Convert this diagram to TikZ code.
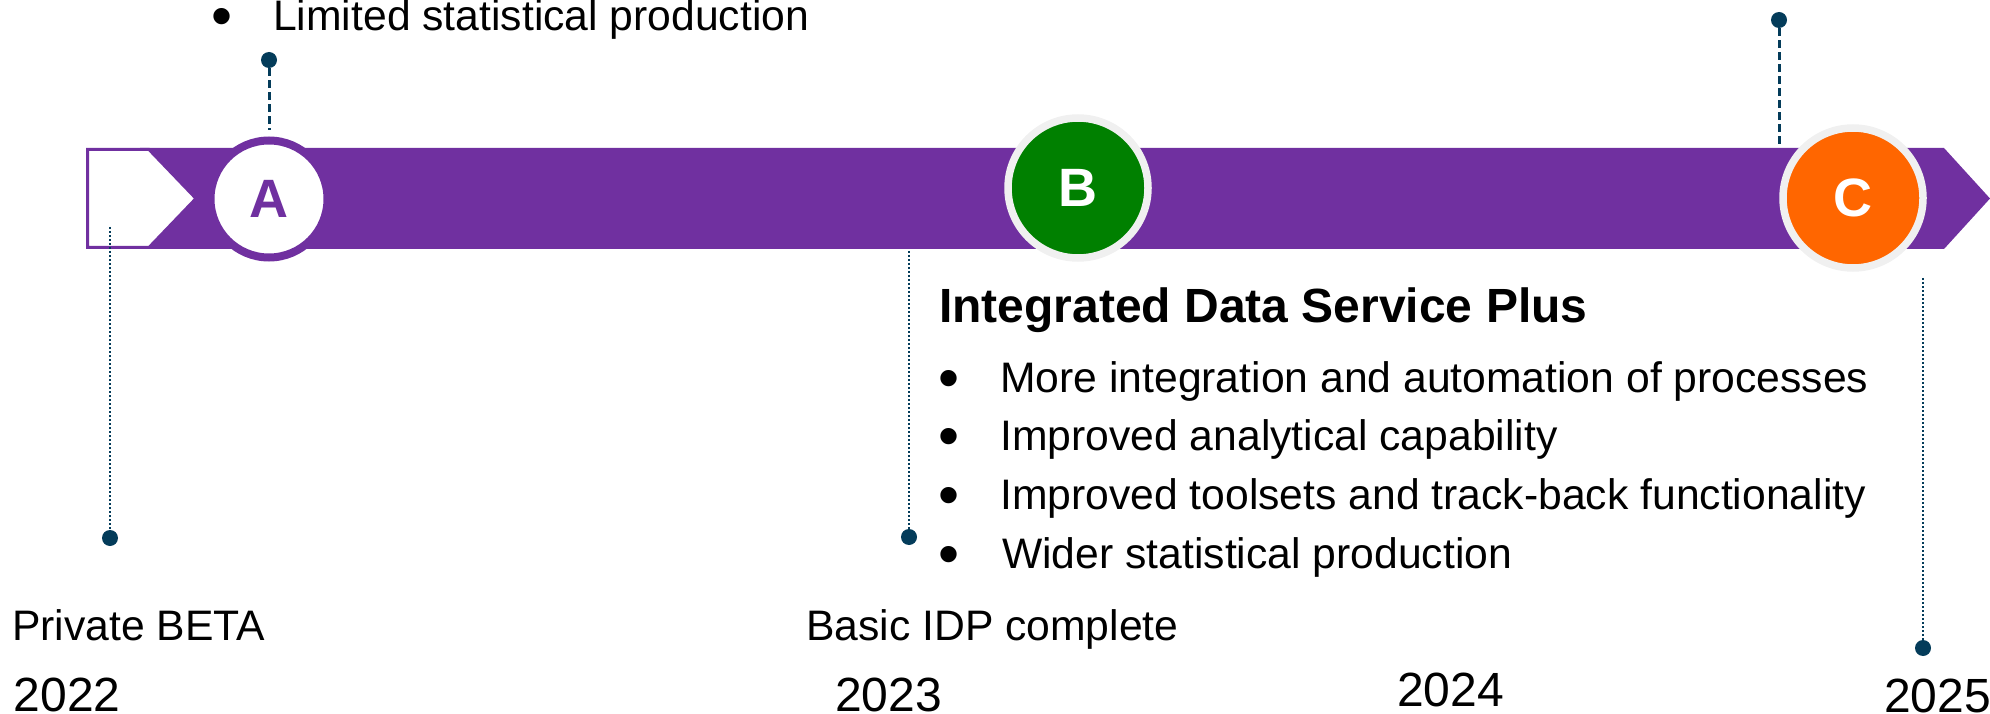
\documentclass[tikz,border=0pt]{standalone}
\usepackage{fontspec}
\setmainfont{Liberation Sans}
\definecolor{bandpurple}{HTML}{7030A0}
\definecolor{dotblue}{RGB}{4,60,90}
\definecolor{bgreen}{HTML}{008000}
\definecolor{corange}{HTML}{FF6600}
\definecolor{ringgray}{HTML}{F0F0F0}
\begin{document}
\begin{tikzpicture}[x=1pt,y=-1pt,
  txt/.style={anchor=base west,inner sep=0pt,font=\fontsize{42.67}{50}\selectfont},
  bul/.style={anchor=base west,inner sep=0pt,font=\fontsize{60}{66}\selectfont},
  yeartxt/.style={anchor=base west,inner sep=0pt,font=\fontsize{48}{56}\selectfont},
  titletxt/.style={anchor=base west,inner sep=0pt,font=\fontsize{48}{56}\selectfont\bfseries},
  pin/.style={circle,fill=dotblue,inner sep=0pt,minimum size=16pt},
  toplink/.style={draw=dotblue,line width=3pt,dash pattern=on 8pt off 4pt},
  botlink/.style={draw=dotblue,line width=2.5pt,dash pattern=on 2pt off 2pt},
  milestone/.style={circle,inner sep=0pt,minimum size=140pt,line width=7.5pt,draw=ringgray,
    text=white,font=\fontsize{54}{60}\selectfont\bfseries}]
\useasboundingbox (0,0) rectangle (1990,714);
% band
\fill[bandpurple] (140,148) -- (1944,148) -- (1990,198.5) -- (1944,249) -- (140,249) -- cycle;
% start pentagon
\draw[bandpurple,line width=3pt,fill=white,line join=miter]
  (87.5,149.5) -- (149,149.5) -- (196,198.5) -- (149,247.5) -- (87.5,247.5) -- cycle;
% milestones
\node[circle,inner sep=0pt,minimum size=117pt,line width=8pt,draw=bandpurple,fill=white,
  text=bandpurple,font=\fontsize{54}{60}\selectfont\bfseries] (A) at (269,199) {A};
\node[milestone,fill=bgreen] (B) at (1078,188) {B};
\node[milestone,fill=corange] (C) at (1853,198) {C};
% pins
\node[pin] (dA) at (269,60) {};
\node[pin] (dC) at (1779,20) {};
\node[pin] (d1) at (110,538) {};
\node[pin] (d2) at (909,537) {};
\node[pin] (d3) at (1923,648) {};
\coordinate (aEnd) at (269,130);
\coordinate (cEnd) at (1779,148);
\coordinate (e1) at (110,227);
\coordinate (e2) at (909,251);
\coordinate (e3) at (1923,278);
\draw[toplink] (dA) -- (aEnd);
\draw[toplink] (dC) -- (cEnd);
\draw[botlink] (e1) -- (d1);
\draw[botlink] (e2) -- (d2);
\draw[botlink] (e3) -- (d3);
% top bullet
\node[bul] (limb) at (211,37) {•};
\node[txt] (lim) at (273,31) {Limited statistical production};
% IDS plus
\node[titletxt] (ttl) at (939,323) {Integrated Data Service Plus};
\node[bul] (b1) at (938,398) {•};
\node[txt] (t1) at (1000,392) {More integration and automation of processes};
\node[bul] (b2) at (938,456) {•};
\node[txt] (t2) at (1000,450) {Improved analytical capability};
\node[bul] (b3) at (938,515) {•};
\node[txt] (t3) at (1000,509) {Improved toolsets and track-back functionality};
\node[bul] (b4) at (938,574) {•};
\node[txt] (t4) at (1002,568) {Wider statistical production};
% bottom labels
\node[txt] (pb) at (12,640) {Private BETA};
\node[txt] (bidp) at (806,640) {Basic IDP complete};
\node[yeartxt] (y22) at (13.5,711) {2022};
\node[yeartxt] (y23) at (835,711) {2023};
\node[yeartxt] (y24) at (1397,706) {2024};
\node[yeartxt] (y25) at (1884,712) {2025};
\end{tikzpicture}
\end{document}
